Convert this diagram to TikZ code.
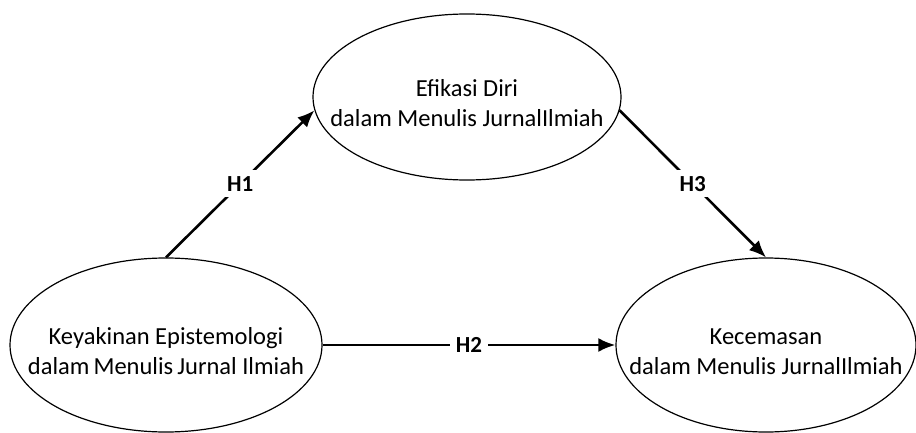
\documentclass[tikz,border=0pt]{standalone}
\usepackage{fontspec}
\setmainfont{Carlito}
\usetikzlibrary{shapes.geometric,arrows.meta}

\newcommand{\lowstrut}{\rule{0pt}{29pt}}

\begin{document}
\begin{tikzpicture}[
x=1pt,y=1pt,
var/.style={
  draw,
  ellipse,
  line width=1.2pt,
  inner xsep=-60pt,
  inner ysep=0pt,
  align=center,
  font=\fontsize{24.5}{30}\selectfont
  },
hyp/.style={
  fill=white,
  inner sep=6pt,
  font=\fontsize{23}{28}\selectfont\bfseries
  },
link/.style={
  ->,
  line width=2.6pt
  },
>={Latex[length=17pt,width=14pt]}
]
\useasboundingbox (0,0) rectangle (916,432);

\node[var, minimum width=308pt, minimum height=166pt] (efikasi) at (467,335)
  {\lowstrut Efikasi Diri\\dalam Menulis JurnalIlmiah};
\node[var, minimum width=312pt, minimum height=174pt] (keyakinan) at (166,87)
  {\lowstrut Keyakinan Epistemologi\\dalam\,Menulis\,Jurnal Ilmiah};
\node[var, minimum width=300pt, minimum height=174pt] (kecemasan) at (766,87)
  {\lowstrut Kecemasan\\dalam Menulis JurnalIlmiah};

% hypotheses
\draw[link] (keyakinan.north) -- node[hyp] (h1) {H1} (efikasi.185);
\draw[link] (keyakinan.east) -- node[hyp] (h2) {H2} (kecemasan.west);
\draw[link] (efikasi.355) -- node[hyp] (h3) {H3} (kecemasan.north);
\end{tikzpicture}
\end{document}
